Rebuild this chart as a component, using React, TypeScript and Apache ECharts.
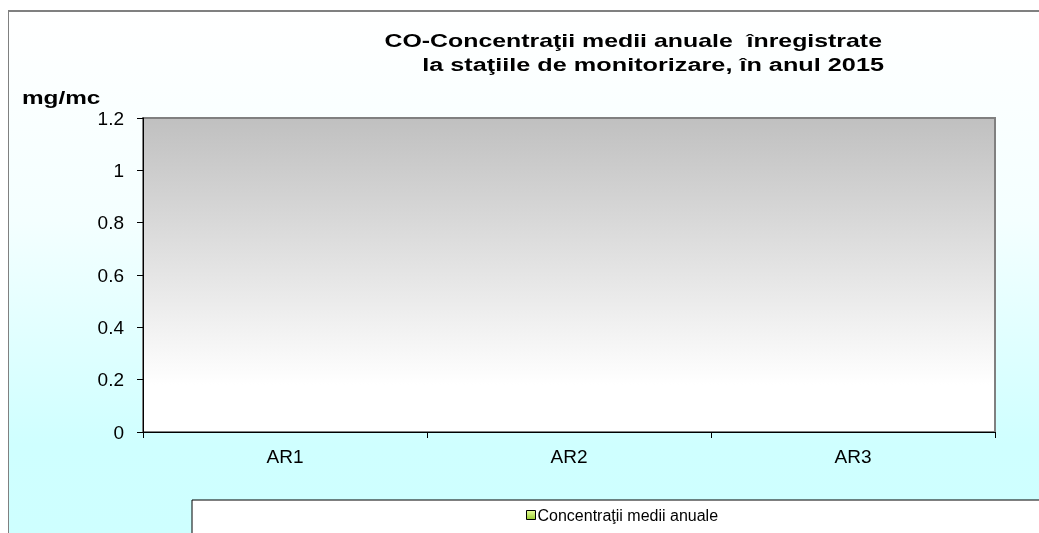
import React, { useEffect, useRef } from "react";
import * as echarts from "echarts";

const categories = ["AR1", "AR2", "AR3"];
const seriesName = "Concentraţii medii anuale";
const seriesValues: (number | null)[] = [0, 0, 0];
const yTicks = { min: 0, max: 1.2, interval: 0.2 };
const titleLine1 = "CO-Concentraţii medii anuale  înregistrate";
const titleLine2 = "la staţiile de monitorizare, în anul 2015";
const unitLabel = "mg/mc";

const FONT = "'Liberation Sans', Arial, sans-serif";

export default function App() {
  const ref = useRef<HTMLDivElement>(null);
  useEffect(() => {
    if (!ref.current) return;
    document.documentElement.style.overflow = "hidden";
    document.body.style.overflow = "hidden";
    const chart = echarts.init(ref.current, undefined, { renderer: "svg" });
    const boldText = {
      fontFamily: FONT,
      fontWeight: "bold",
      fontSize: 19,
      fill: "#000",
    };
    chart.setOption({
      animation: false,
      graphic: [
        {
          type: "rect",
          z: -10,
          silent: true,
          shape: { x: 0, y: 3, width: 1200, height: 700 },
          style: {
            fill: new echarts.graphic.LinearGradient(0, 0, 0, 1, [
              { offset: 0, color: "#ffffff" },
              { offset: 0.3, color: "#f4ffff" },
              { offset: 0.62, color: "#cfffff" },
              { offset: 1, color: "#ccffff" },
            ]),
            stroke: "#808080",
            lineWidth: 2,
          },
        },
        {
          type: "rect",
          z: 1,
          silent: true,
          shape: { x: 184, y: 492, width: 1000, height: 200 },
          style: { fill: "#ffffff", stroke: "#000000", lineWidth: 1 },
        },
        {
          type: "text",
          z: 5,
          x: 874,
          y: 23,
          scaleX: 1.31,
          style: { ...boldText, text: titleLine1, align: "right", verticalAlign: "top" },
        },
        {
          type: "text",
          z: 5,
          x: 876,
          y: 47,
          scaleX: 1.33,
          style: { ...boldText, text: titleLine2, align: "right", verticalAlign: "top" },
        },
        {
          type: "text",
          z: 5,
          x: 14,
          y: 80,
          scaleX: 1.28,
          style: { ...boldText, text: unitLabel, align: "left", verticalAlign: "top" },
        },
      ],
      legend: {
        left: 518,
        top: 499,
        padding: 0,
        itemWidth: 9,
        itemHeight: 9,
        itemGap: 3,
        z: 5,
        data: [
          {
            name: seriesName,
            icon: "rect",
            itemStyle: {
              color: new echarts.graphic.LinearGradient(0, 0, 0, 1, [
                { offset: 0, color: "#e8ff99" },
                { offset: 1, color: "#99cc33" },
              ]),
              borderColor: "#000",
              borderWidth: 1,
            },
          },
        ],
        textStyle: { fontFamily: FONT, fontSize: 16, color: "#000", padding: [0, 0, 0, -3] },
      },
      grid: {
        left: 135,
        top: 110,
        right: 44,
        bottom: 101,
        show: true,
        borderColor: "#808080",
        borderWidth: 2,
        backgroundColor: new echarts.graphic.LinearGradient(0, 0, 0, 1, [
          { offset: 0, color: "#c0c0c0" },
          { offset: 0.85, color: "#ffffff" },
          { offset: 1, color: "#ffffff" },
        ]),
      },
      xAxis: {
        type: "category",
        data: categories,
        boundaryGap: true,
        axisLine: { show: true, lineStyle: { color: "#000", width: 1 } },
        axisTick: { show: true, length: 6, lineStyle: { color: "#000" } },
        axisLabel: { fontFamily: FONT, fontSize: 19, color: "#000", margin: 15 },
        splitLine: { show: false },
      },
      yAxis: {
        type: "value",
        min: yTicks.min,
        max: yTicks.max,
        interval: yTicks.interval,
        axisLine: { show: true, lineStyle: { color: "#000", width: 1 } },
        axisTick: { show: true, length: 6, lineStyle: { color: "#000" } },
        axisLabel: { fontFamily: FONT, fontSize: 19, color: "#000", margin: 19 },
        splitLine: { show: false },
      },
      series: [
        {
          name: seriesName,
          type: "bar",
          data: seriesValues,
          barWidth: "40%",
          itemStyle: { color: "#99cc33" },
        },
      ],
    });
    return () => chart.dispose();
  }, []);
  return (
    <div
      ref={ref}
      style={{ position: "fixed", left: 8, top: 8, width: 1031, height: 525 }}
    />
  );
}
